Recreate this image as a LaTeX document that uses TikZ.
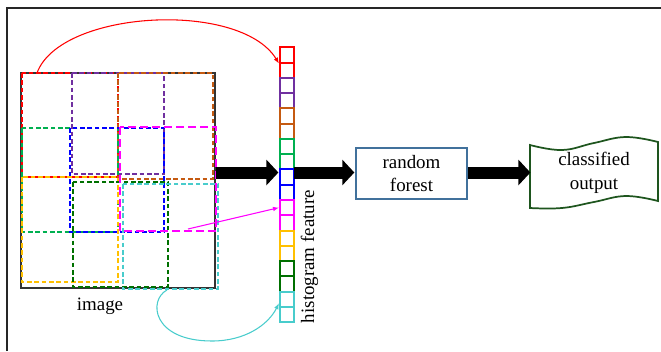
\documentclass[tikz,border=0pt]{standalone}
\usepackage{fontspec}
\setmainfont{Liberation Serif}
\usetikzlibrary{arrows.meta,calc}
\definecolor{cRed}{RGB}{255,0,0}
\definecolor{cPurple}{RGB}{112,48,160}
\definecolor{cBrown}{RGB}{197,90,17}
\definecolor{cGreen}{RGB}{0,176,80}
\definecolor{cBlue}{RGB}{0,0,255}
\definecolor{cMag}{RGB}{255,0,255}
\definecolor{cYel}{RGB}{255,192,0}
\definecolor{cDkGreen}{RGB}{0,112,0}
\definecolor{cCyan}{RGB}{72,204,204}
\definecolor{cBoxBlue}{RGB}{65,113,156}
\definecolor{cOut}{RGB}{30,85,30}
\begin{document}
\begin{tikzpicture}[x=0.75pt,y=-0.75pt,
  font=\fontsize{14.2pt}{17.5pt}\selectfont,
  win/.style={draw=#1, line width=1.25pt, dash pattern=on 3.6pt off 1.9pt},
  hcell/.style={draw=#1, line width=1.5pt, minimum width=10.5pt, minimum height=11.45pt, inner sep=0pt},
  bigarrow/.style={line width=9pt, -{Triangle[length=9pt,width=18.75pt]}},
  link/.style={draw=#1, line width=0.8pt, -{Latex[length=4.5pt,width=3.5pt]}}
]
\useasboundingbox (0,0) rectangle (661,351);
% frame
\draw[line width=0.8pt, black!85] (7,351) -- (7,8) -- (661,8);

% image box
\node[draw=black!80, line width=1.1pt, minimum width=145.5pt, minimum height=161.25pt, inner sep=0pt] (img) at (118,180.5) {};
\node (imglabel) at (100,306) {image};

% sliding windows
\draw[win=cRed] (22,73) rectangle (118,177);
\draw[win=cPurple] (72,73) rectangle (164,174);
\draw[win=cBrown] (118,73) rectangle (213,179);
\draw[win=cGreen] (22,128) rectangle (118,232);
\draw[win=cBlue] (70,128) rectangle (164,232);
\draw[win=cYel] (22,177) rectangle (118,282);
\draw[win=cDkGreen] (73,182) rectangle (168,287);
\draw[win=cCyan] (123,184) rectangle (218,289);
\draw[draw=cMag, line width=1.5pt, dash pattern=on 6pt off 3pt] (120,127) rectangle (216,231);

% histogram column
\foreach \c [count=\i] in {cRed,cRed,cPurple,cPurple,cBrown,cBrown,cGreen,cGreen,cBlue,cBlue,cMag,cMag,cYel,cYel,cDkGreen,cDkGreen,cCyan,cCyan}{
  \node[hcell=\c] (c\i) at (287,{47.3+15.27*(\i-0.5)}) {};
}
\node[minimum width=10.5pt, minimum height=206.6pt, inner sep=0pt] (hist) at (287,185) {};
\node[rotate=90] (histlabel) at (309.5,256.5) {histogram feature};

% random forest
\node[draw=cBoxBlue, line width=1.5pt, minimum width=83.25pt, minimum height=38.25pt, inner sep=0pt, align=center] (rf) at (411.5,173.5) {random\\forest};

% classified output
\node[minimum width=96pt, minimum height=48pt, inner sep=0pt, align=center] (out) at (594,173) {classified\\output};
\draw[draw=cOut, line width=1.3pt]
  plot[smooth, tension=0.7] coordinates {(530,145) (562,150) (594,143) (626,137) (658,142)}
  -- plot[smooth, tension=0.7] coordinates {(658,201) (626,196) (594,202) (562,208) (530,208)}
  -- cycle;

% block arrows
\coordinate (ay) at (0,172.5);
\draw[bigarrow] (img.east |- ay) -- ([xshift=-1pt]hist.west |- ay);
\draw[bigarrow] (hist.east |- ay) -- ([xshift=-0.5pt]rf.west |- ay);
\draw[bigarrow] (rf.east |- ay) -- ([xshift=0.5pt]out.west |- ay);

% links
\coordinate (rs) at (37,73);
\coordinate (ms) at (188,229);
\coordinate (cs) at (167,290);
\draw[link=cRed] (rs) .. controls (60,10) and (240,0) .. (c1.south west);
\draw[link=cMag] (ms) -- (c11.west);
\draw[link=cCyan] (cs) .. controls (148,300) and (152,341) .. (212,341) .. controls (245,341) and (268,325) .. ([yshift=-3pt]c17.west);
\end{tikzpicture}
\end{document}
